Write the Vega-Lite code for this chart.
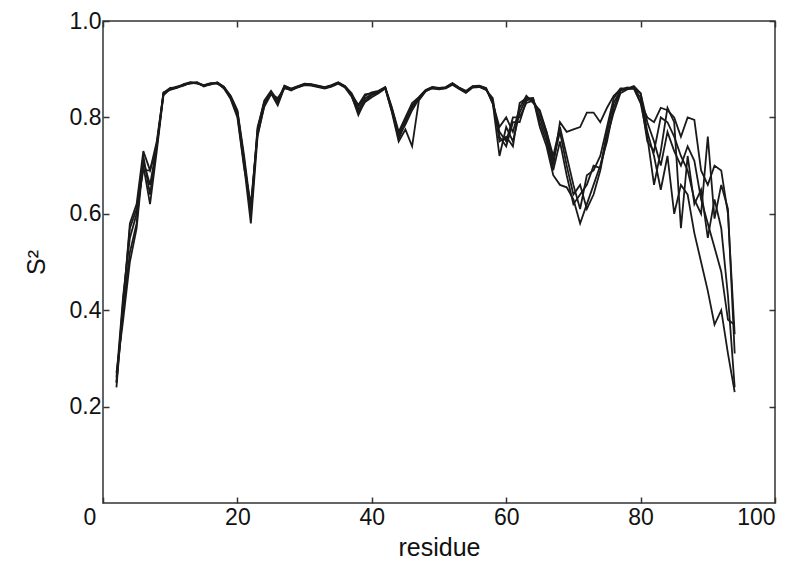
{
  "$schema": "https://vega.github.io/schema/vega-lite/v6.json",
  "autosize": {"type": "none"},
  "width": 672,
  "height": 482,
  "padding": {"left": 103, "top": 21, "right": 25, "bottom": 64},
  "background": "white",
  "config": {
    "view": {"stroke": "#333333", "strokeWidth": 1.5},
    "axis": {
      "domain": false,
      "grid": false,
      "ticks": true,
      "tickColor": "#333333",
      "tickWidth": 1.5,
      "tickSize": -6,
      "labelFont": "Liberation Sans",
      "labelFontSize": 23,
      "labelColor": "#111111",
      "titleFont": "Liberation Sans",
      "titleFontSize": 25,
      "titleFontWeight": "normal",
      "titleColor": "#111111"
    }
  },
  "data": {
    "values": [
      {"r": 2, "a": 0.24, "b": 0.26, "c": 0.25, "d": 0.27, "e": 0.25},
      {"r": 3, "a": 0.41, "b": 0.43, "c": 0.40, "d": 0.38, "e": 0.42},
      {"r": 4, "a": 0.58, "b": 0.55, "c": 0.52, "d": 0.50, "e": 0.57},
      {"r": 5, "a": 0.62, "b": 0.60, "c": 0.58, "d": 0.57, "e": 0.61},
      {"r": 6, "a": 0.73, "b": 0.70, "c": 0.72, "d": 0.71, "e": 0.69},
      {"r": 7, "a": 0.69, "b": 0.62, "c": 0.64, "d": 0.66, "e": 0.69},
      {"r": 8, "a": 0.74, "b": 0.73, "c": 0.745, "d": 0.74, "e": 0.75},
      {"r": 9, "a": 0.850, "b": 0.848, "c": 0.852, "d": 0.846, "e": 0.851},
      {"r": 10, "a": 0.858, "b": 0.860, "c": 0.857, "d": 0.859, "e": 0.861},
      {"r": 11, "a": 0.862, "b": 0.863, "c": 0.861, "d": 0.864, "e": 0.862},
      {"r": 12, "a": 0.868, "b": 0.867, "c": 0.869, "d": 0.868, "e": 0.866},
      {"r": 13, "a": 0.872, "b": 0.871, "c": 0.873, "d": 0.870, "e": 0.872},
      {"r": 14, "a": 0.872, "b": 0.873, "c": 0.871, "d": 0.872, "e": 0.870},
      {"r": 15, "a": 0.866, "b": 0.864, "c": 0.867, "d": 0.865, "e": 0.866},
      {"r": 16, "a": 0.870, "b": 0.869, "c": 0.871, "d": 0.870, "e": 0.868},
      {"r": 17, "a": 0.871, "b": 0.872, "c": 0.870, "d": 0.871, "e": 0.873},
      {"r": 18, "a": 0.862, "b": 0.860, "c": 0.863, "d": 0.861, "e": 0.864},
      {"r": 19, "a": 0.843, "b": 0.840, "c": 0.845, "d": 0.838, "e": 0.842},
      {"r": 20, "a": 0.812, "b": 0.805, "c": 0.815, "d": 0.800, "e": 0.810},
      {"r": 21, "a": 0.712, "b": 0.700, "c": 0.720, "d": 0.695, "e": 0.710},
      {"r": 22, "a": 0.600, "b": 0.580, "c": 0.610, "d": 0.620, "e": 0.600},
      {"r": 23, "a": 0.770, "b": 0.760, "c": 0.775, "d": 0.765, "e": 0.780},
      {"r": 24, "a": 0.830, "b": 0.825, "c": 0.835, "d": 0.822, "e": 0.832},
      {"r": 25, "a": 0.852, "b": 0.850, "c": 0.855, "d": 0.848, "e": 0.853},
      {"r": 26, "a": 0.830, "b": 0.825, "c": 0.835, "d": 0.840, "e": 0.828},
      {"r": 27, "a": 0.864, "b": 0.862, "c": 0.866, "d": 0.860, "e": 0.865},
      {"r": 28, "a": 0.858, "b": 0.856, "c": 0.860, "d": 0.857, "e": 0.859},
      {"r": 29, "a": 0.864, "b": 0.863, "c": 0.865, "d": 0.862, "e": 0.864},
      {"r": 30, "a": 0.869, "b": 0.868, "c": 0.870, "d": 0.867, "e": 0.869},
      {"r": 31, "a": 0.868, "b": 0.867, "c": 0.869, "d": 0.866, "e": 0.868},
      {"r": 32, "a": 0.865, "b": 0.864, "c": 0.866, "d": 0.863, "e": 0.865},
      {"r": 33, "a": 0.862, "b": 0.861, "c": 0.863, "d": 0.860, "e": 0.862},
      {"r": 34, "a": 0.866, "b": 0.865, "c": 0.867, "d": 0.864, "e": 0.866},
      {"r": 35, "a": 0.872, "b": 0.871, "c": 0.873, "d": 0.870, "e": 0.872},
      {"r": 36, "a": 0.864, "b": 0.863, "c": 0.865, "d": 0.862, "e": 0.864},
      {"r": 37, "a": 0.848, "b": 0.845, "c": 0.850, "d": 0.843, "e": 0.847},
      {"r": 38, "a": 0.815, "b": 0.805, "c": 0.822, "d": 0.810, "e": 0.826},
      {"r": 39, "a": 0.840, "b": 0.835, "c": 0.845, "d": 0.832, "e": 0.848},
      {"r": 40, "a": 0.848, "b": 0.846, "c": 0.852, "d": 0.842, "e": 0.850},
      {"r": 41, "a": 0.853, "b": 0.852, "c": 0.855, "d": 0.850, "e": 0.854},
      {"r": 42, "a": 0.862, "b": 0.861, "c": 0.863, "d": 0.860, "e": 0.862},
      {"r": 43, "a": 0.815, "b": 0.810, "c": 0.820, "d": 0.812, "e": 0.818},
      {"r": 44, "a": 0.755, "b": 0.750, "c": 0.770, "d": 0.760, "e": 0.765},
      {"r": 45, "a": 0.790, "b": 0.775, "c": 0.800, "d": 0.785, "e": 0.795},
      {"r": 46, "a": 0.825, "b": 0.740, "c": 0.830, "d": 0.815, "e": 0.820},
      {"r": 47, "a": 0.840, "b": 0.835, "c": 0.842, "d": 0.838, "e": 0.841},
      {"r": 48, "a": 0.856, "b": 0.854, "c": 0.857, "d": 0.855, "e": 0.856},
      {"r": 49, "a": 0.862, "b": 0.861, "c": 0.863, "d": 0.860, "e": 0.862},
      {"r": 50, "a": 0.860, "b": 0.859, "c": 0.861, "d": 0.858, "e": 0.860},
      {"r": 51, "a": 0.862, "b": 0.861, "c": 0.863, "d": 0.860, "e": 0.862},
      {"r": 52, "a": 0.870, "b": 0.869, "c": 0.871, "d": 0.868, "e": 0.870},
      {"r": 53, "a": 0.861, "b": 0.860, "c": 0.862, "d": 0.859, "e": 0.861},
      {"r": 54, "a": 0.853, "b": 0.852, "c": 0.855, "d": 0.851, "e": 0.853},
      {"r": 55, "a": 0.864, "b": 0.863, "c": 0.865, "d": 0.862, "e": 0.864},
      {"r": 56, "a": 0.865, "b": 0.864, "c": 0.866, "d": 0.863, "e": 0.865},
      {"r": 57, "a": 0.860, "b": 0.858, "c": 0.861, "d": 0.857, "e": 0.860},
      {"r": 58, "a": 0.830, "b": 0.835, "c": 0.830, "d": 0.840, "e": 0.828},
      {"r": 59, "a": 0.720, "b": 0.760, "c": 0.780, "d": 0.750, "e": 0.770},
      {"r": 60, "a": 0.780, "b": 0.740, "c": 0.800, "d": 0.760, "e": 0.750},
      {"r": 61, "a": 0.750, "b": 0.790, "c": 0.770, "d": 0.740, "e": 0.800},
      {"r": 62, "a": 0.810, "b": 0.790, "c": 0.820, "d": 0.830, "e": 0.800},
      {"r": 63, "a": 0.840, "b": 0.835, "c": 0.845, "d": 0.840, "e": 0.830},
      {"r": 64, "a": 0.835, "b": 0.840, "c": 0.830, "d": 0.840, "e": 0.835},
      {"r": 65, "a": 0.800, "b": 0.780, "c": 0.815, "d": 0.790, "e": 0.810},
      {"r": 66, "a": 0.760, "b": 0.740, "c": 0.770, "d": 0.750, "e": 0.770},
      {"r": 67, "a": 0.700, "b": 0.680, "c": 0.710, "d": 0.690, "e": 0.720},
      {"r": 68, "a": 0.790, "b": 0.660, "c": 0.770, "d": 0.750, "e": 0.780},
      {"r": 69, "a": 0.770, "b": 0.655, "c": 0.700, "d": 0.680, "e": 0.720},
      {"r": 70, "a": 0.775, "b": 0.630, "c": 0.640, "d": 0.620, "e": 0.660},
      {"r": 71, "a": 0.780, "b": 0.580, "c": 0.660, "d": 0.640, "e": 0.610},
      {"r": 72, "a": 0.810, "b": 0.620, "c": 0.610, "d": 0.660, "e": 0.680},
      {"r": 73, "a": 0.810, "b": 0.660, "c": 0.640, "d": 0.700, "e": 0.690},
      {"r": 74, "a": 0.790, "b": 0.700, "c": 0.690, "d": 0.695, "e": 0.720},
      {"r": 75, "a": 0.820, "b": 0.750, "c": 0.760, "d": 0.770, "e": 0.780},
      {"r": 76, "a": 0.845, "b": 0.820, "c": 0.810, "d": 0.830, "e": 0.840},
      {"r": 77, "a": 0.858, "b": 0.855, "c": 0.850, "d": 0.856, "e": 0.860},
      {"r": 78, "a": 0.860, "b": 0.860, "c": 0.858, "d": 0.862, "e": 0.860},
      {"r": 79, "a": 0.860, "b": 0.860, "c": 0.862, "d": 0.860, "e": 0.865},
      {"r": 80, "a": 0.830, "b": 0.850, "c": 0.840, "d": 0.830, "e": 0.850},
      {"r": 81, "a": 0.800, "b": 0.770, "c": 0.750, "d": 0.760, "e": 0.790},
      {"r": 82, "a": 0.790, "b": 0.720, "c": 0.730, "d": 0.660, "e": 0.750},
      {"r": 83, "a": 0.820, "b": 0.650, "c": 0.800, "d": 0.730, "e": 0.700},
      {"r": 84, "a": 0.815, "b": 0.720, "c": 0.790, "d": 0.820, "e": 0.770},
      {"r": 85, "a": 0.800, "b": 0.600, "c": 0.760, "d": 0.790, "e": 0.730},
      {"r": 86, "a": 0.760, "b": 0.660, "c": 0.720, "d": 0.570, "e": 0.700},
      {"r": 87, "a": 0.800, "b": 0.640, "c": 0.690, "d": 0.720, "e": 0.740},
      {"r": 88, "a": 0.795, "b": 0.560, "c": 0.630, "d": 0.620, "e": 0.710},
      {"r": 89, "a": 0.690, "b": 0.500, "c": 0.600, "d": 0.650, "e": 0.630},
      {"r": 90, "a": 0.660, "b": 0.440, "c": 0.760, "d": 0.550, "e": 0.580},
      {"r": 91, "a": 0.700, "b": 0.370, "c": 0.590, "d": 0.630, "e": 0.530},
      {"r": 92, "a": 0.690, "b": 0.400, "c": 0.660, "d": 0.570, "e": 0.480},
      {"r": 93, "a": 0.600, "b": 0.310, "c": 0.610, "d": 0.430, "e": 0.380},
      {"r": 94, "a": 0.350, "b": 0.230, "c": 0.310, "d": 0.240, "e": 0.370}
    ]
  },
  "transform": [{"fold": ["a", "b", "c", "d", "e"], "as": ["run", "s2"]}],
  "layer": [
    {
      "mark": {"type": "line", "stroke": "#1a1a1a", "strokeWidth": 1.8, "strokeJoin": "miter", "clip": true},
      "encoding": {
        "x": {
          "field": "r", "type": "quantitative",
          "scale": {"domain": [0, 100], "nice": false, "zero": false},
          "axis": {
            "orient": "bottom",
            "values": [0, 20, 40, 60, 80, 100],
            "title": "residue",
            "labelPadding": 9,
            "titlePadding": 6,
            "labelOffset": {"condition": {"test": "datum.value == 0", "value": -20}, "value": 0}
          }
        },
        "y": {
          "field": "s2", "type": "quantitative",
          "scale": {"domain": [0, 1], "nice": false},
          "axis": {
            "orient": "left",
            "values": [0.2, 0.4, 0.6, 0.8, 1.0],
            "format": ".1f",
            "title": "S²",
            "labelPadding": 8,
            "titlePadding": 20
          }
        },
        "detail": {"field": "run"}
      }
    },
    {
      "mark": {"type": "line", "strokeOpacity": 0},
      "encoding": {
        "x": {
          "field": "r", "type": "quantitative",
          "scale": {"domain": [0, 100], "nice": false, "zero": false},
          "axis": {"orient": "top", "values": [0, 20, 40, 60, 80, 100], "labels": false, "title": null}
        },
        "y": {
          "field": "s2", "type": "quantitative",
          "scale": {"domain": [0, 1], "nice": false},
          "axis": {"orient": "right", "values": [0.2, 0.4, 0.6, 0.8, 1.0], "labels": false, "title": null}
        },
        "detail": {"field": "run"}
      }
    }
  ],
  "resolve": {"axis": {"x": "independent", "y": "independent"}}
}
